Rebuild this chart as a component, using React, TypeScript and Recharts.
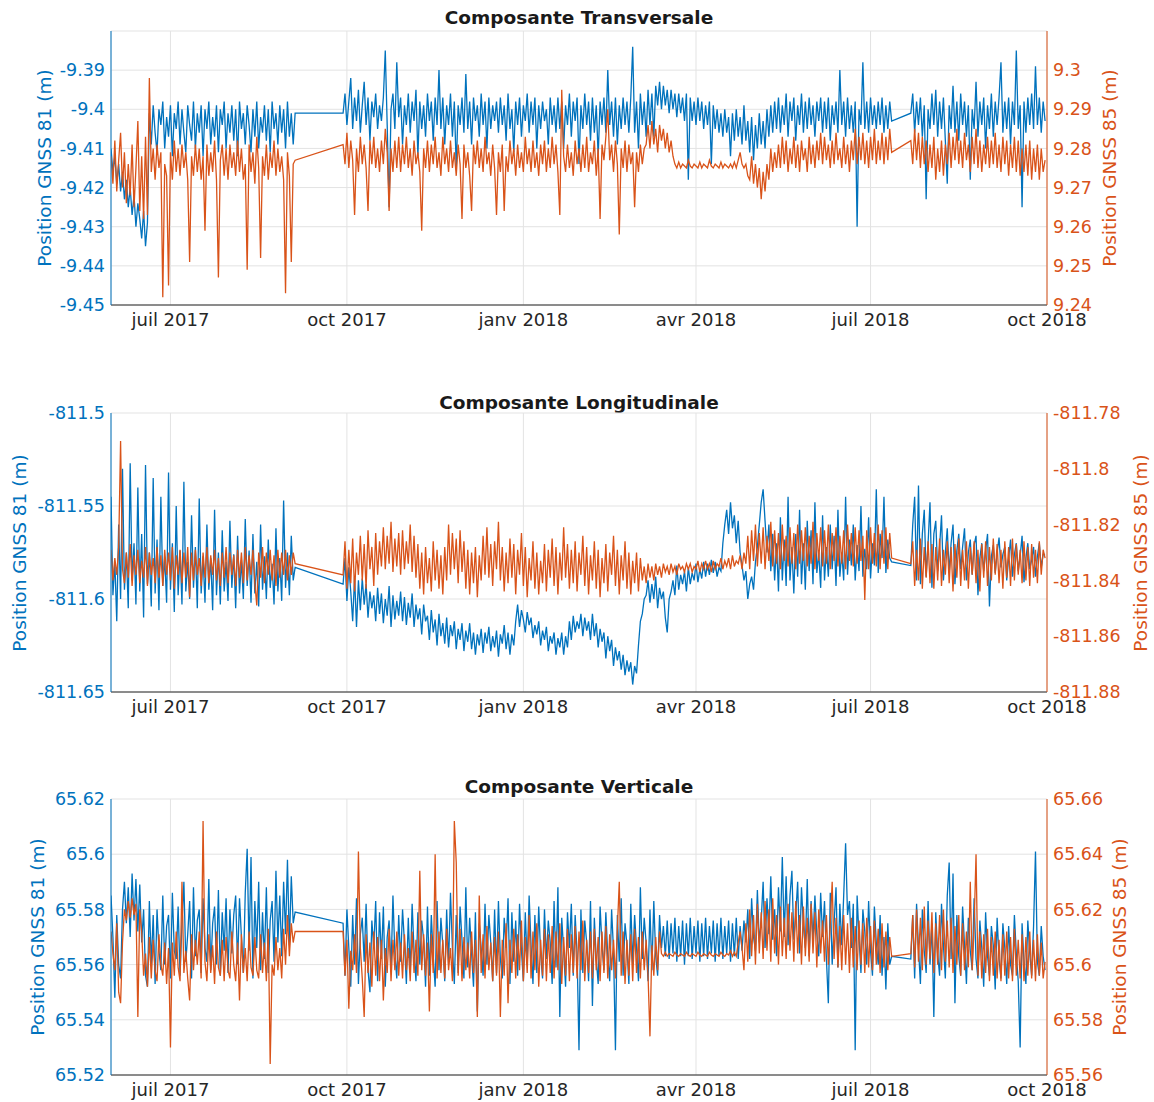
import React from "react"
import { LineChart, Line, XAxis, YAxis, CartesianGrid } from "recharts"

const BLUE = "#0072BD"
const ORANGE = "#D95319"
const FONT = "'DejaVu Sans', Verdana, sans-serif"

// days counted from 1 July 2017, one sample per day, three recording periods
const DAYS_A = [
	-31, -30, -29, -28, -27, -26, -25, -24, -23, -22,
	-21, -20, -19, -18, -17, -16, -15, -14, -13, -12,
	-11, -10, -9, -8, -7, -6, -5, -4, -3, -2,
	-1, 0, 1, 2, 3, 4, 5, 6, 7, 8,
	9, 10, 11, 12, 13, 14, 15, 16, 17, 18,
	19, 20, 21, 22, 23, 24, 25, 26, 27, 28,
	29, 30, 31, 32, 33, 34, 35, 36, 37, 38,
	39, 40, 41, 42, 43, 44, 45, 46, 47, 48,
	49, 50, 51, 52, 53, 54, 55, 56, 57, 58,
	59, 60, 61, 62, 63, 64, 65,
]
const DAYS_B = [
	90, 91, 92, 93, 94, 95, 96, 97, 98, 99,
	100, 101, 102, 103, 104, 105, 106, 107, 108, 109,
	110, 111, 112, 113, 114, 115, 116, 117, 118, 119,
	120, 121, 122, 123, 124, 125, 126, 127, 128, 129,
	130, 131, 132, 133, 134, 135, 136, 137, 138, 139,
	140, 141, 142, 143, 144, 145, 146, 147, 148, 149,
	150, 151, 152, 153, 154, 155, 156, 157, 158, 159,
	160, 161, 162, 163, 164, 165, 166, 167, 168, 169,
	170, 171, 172, 173, 174, 175, 176, 177, 178, 179,
	180, 181, 182, 183, 184, 185, 186, 187, 188, 189,
	190, 191, 192, 193, 194, 195, 196, 197, 198, 199,
	200, 201, 202, 203, 204, 205, 206, 207, 208, 209,
	210, 211, 212, 213, 214, 215, 216, 217, 218, 219,
	220, 221, 222, 223, 224, 225, 226, 227, 228, 229,
	230, 231, 232, 233, 234, 235, 236, 237, 238, 239,
	240, 241, 242, 243, 244, 245, 246, 247, 248, 249,
	250, 251, 252, 253, 254, 255, 256, 257, 258, 259,
	260, 261, 262, 263, 264, 265, 266, 267, 268, 269,
	270, 271, 272, 273, 274, 275, 276, 277, 278, 279,
	280, 281, 282, 283, 284, 285, 286, 287, 288, 289,
	290, 291, 292, 293, 294, 295, 296, 297, 298, 299,
	300, 301, 302, 303, 304, 305, 306, 307, 308, 309,
	310, 311, 312, 313, 314, 315, 316, 317, 318, 319,
	320, 321, 322, 323, 324, 325, 326, 327, 328, 329,
	330, 331, 332, 333, 334, 335, 336, 337, 338, 339,
	340, 341, 342, 343, 344, 345, 346, 347, 348, 349,
	350, 351, 352, 353, 354, 355, 356, 357, 358, 359,
	360, 361, 362, 363, 364, 365, 366, 367, 368, 369,
	370, 371, 372, 373, 374, 375, 376,
]
const DAYS_C = [
	386, 387, 388, 389, 390, 391, 392, 393, 394, 395,
	396, 397, 398, 399, 400, 401, 402, 403, 404, 405,
	406, 407, 408, 409, 410, 411, 412, 413, 414, 415,
	416, 417, 418, 419, 420, 421, 422, 423, 424, 425,
	426, 427, 428, 429, 430, 431, 432, 433, 434, 435,
	436, 437, 438, 439, 440, 441, 442, 443, 444, 445,
	446, 447, 448, 449, 450, 451, 452, 453, 454, 455,
	456,
]

const X_TICKS = [0, 92, 184, 274, 365, 457]
const X_LABELS = ["juil 2017", "oct 2017", "janv 2018", "avr 2018", "juil 2018", "oct 2018"]

// Composante Transversale, GNSS 81 (left axis)
const TRANS_81 = [
	-9.410, -9.416, -9.412, -9.419, -9.414, -9.421, -9.416, -9.423, -9.418, -9.425,
	-9.420, -9.427, -9.422, -9.430, -9.424, -9.428, -9.433, -9.426, -9.435, -9.429,
	-9.401, -9.409, -9.399, -9.406, -9.411, -9.400, -9.404, -9.398, -9.410, -9.402,
	-9.407, -9.399, -9.412, -9.401, -9.405, -9.398, -9.409, -9.400, -9.406, -9.411,
	-9.399, -9.404, -9.408, -9.398, -9.410, -9.401, -9.406, -9.399, -9.412, -9.400,
	-9.405, -9.398, -9.409, -9.402, -9.407, -9.399, -9.411, -9.400, -9.404, -9.398,
	-9.410, -9.401, -9.406, -9.399, -9.408, -9.400, -9.412, -9.398, -9.405, -9.401,
	-9.409, -9.399, -9.404, -9.411, -9.400, -9.407, -9.398, -9.410, -9.402, -9.406,
	-9.399, -9.408, -9.400, -9.411, -9.398, -9.405, -9.401, -9.409, -9.399, -9.406,
	-9.400, -9.410, -9.398, -9.407, -9.401, -9.409, -9.401,
	-9.401, -9.396, -9.404, -9.398, -9.392, -9.405, -9.397, -9.403, -9.395, -9.406,
	-9.399, -9.393, -9.404, -9.397, -9.408, -9.398, -9.402, -9.396, -9.405, -9.399,
	-9.403, -9.397, -9.385, -9.404, -9.425, -9.400, -9.396, -9.405, -9.388, -9.402,
	-9.397, -9.409, -9.399, -9.404, -9.396, -9.406, -9.398, -9.403, -9.395, -9.412,
	-9.398, -9.405, -9.399, -9.407, -9.396, -9.403, -9.398, -9.408, -9.397, -9.404,
	-9.390, -9.405, -9.397, -9.409, -9.399, -9.404, -9.396, -9.407, -9.398, -9.415,
	-9.399, -9.404, -9.397, -9.406, -9.391, -9.405, -9.398, -9.409, -9.397, -9.403,
	-9.399, -9.407, -9.396, -9.404, -9.398, -9.410, -9.397, -9.405, -9.399, -9.403,
	-9.398, -9.406, -9.397, -9.404, -9.399, -9.408, -9.396, -9.405, -9.400, -9.411,
	-9.398, -9.404, -9.397, -9.407, -9.399, -9.403, -9.396, -9.406, -9.398, -9.404,
	-9.397, -9.410, -9.399, -9.405, -9.398, -9.403, -9.400, -9.409, -9.397, -9.404,
	-9.399, -9.406, -9.397, -9.405, -9.398, -9.410, -9.399, -9.404, -9.396, -9.407,
	-9.398, -9.403, -9.397, -9.414, -9.399, -9.405, -9.396, -9.404, -9.398, -9.408,
	-9.397, -9.406, -9.399, -9.412, -9.398, -9.404, -9.397, -9.406, -9.390, -9.404,
	-9.398, -9.407, -9.397, -9.409, -9.399, -9.405, -9.397, -9.404, -9.398, -9.406,
	-9.397, -9.384, -9.406, -9.398, -9.410, -9.396, -9.404, -9.398, -9.407, -9.395,
	-9.404, -9.396, -9.407, -9.394, -9.399, -9.393, -9.400, -9.394, -9.399, -9.395,
	-9.401, -9.395, -9.400, -9.396, -9.402, -9.396, -9.401, -9.397, -9.403, -9.396,
	-9.418, -9.397, -9.403, -9.398, -9.404, -9.397, -9.403, -9.398, -9.405, -9.399,
	-9.404, -9.398, -9.414, -9.399, -9.405, -9.400, -9.406, -9.401, -9.407, -9.400,
	-9.406, -9.402, -9.412, -9.401, -9.408, -9.400, -9.407, -9.402, -9.409, -9.399,
	-9.408, -9.403, -9.411, -9.402, -9.413, -9.404, -9.410, -9.401, -9.409, -9.403,
	-9.410, -9.400, -9.407, -9.399, -9.406, -9.398, -9.405, -9.397, -9.406, -9.399,
	-9.404, -9.396, -9.407, -9.398, -9.403, -9.397, -9.408, -9.399, -9.404, -9.396,
	-9.406, -9.398, -9.405, -9.397, -9.404, -9.399, -9.407, -9.398, -9.403, -9.397,
	-9.406, -9.398, -9.405, -9.397, -9.408, -9.399, -9.404, -9.398, -9.406, -9.390,
	-9.404, -9.398, -9.407, -9.397, -9.405, -9.399, -9.406, -9.398, -9.430, -9.400,
	-9.404, -9.388, -9.405, -9.398, -9.406, -9.397, -9.404, -9.399, -9.405, -9.398,
	-9.404, -9.397, -9.406, -9.399, -9.405, -9.398, -9.403,
	-9.401, -9.396, -9.406, -9.398, -9.404, -9.397, -9.407, -9.399, -9.423, -9.400,
	-9.405, -9.396, -9.404, -9.395, -9.407, -9.398, -9.405, -9.397, -9.408, -9.419,
	-9.399, -9.405, -9.394, -9.406, -9.398, -9.408, -9.396, -9.404, -9.398, -9.407,
	-9.399, -9.418, -9.400, -9.405, -9.393, -9.407, -9.398, -9.404, -9.397, -9.410,
	-9.399, -9.405, -9.396, -9.407, -9.398, -9.404, -9.397, -9.388, -9.406, -9.398,
	-9.405, -9.397, -9.409, -9.398, -9.404, -9.385, -9.405, -9.399, -9.425, -9.398,
	-9.406, -9.397, -9.404, -9.396, -9.405, -9.389, -9.404, -9.397, -9.406, -9.398,
	-9.403,
]
// Composante Transversale, GNSS 85 (right axis)
const TRANS_85 = [
	9.278, 9.271, 9.282, 9.269, 9.277, 9.284, 9.270, 9.279, 9.266, 9.276,
	9.268, 9.281, 9.265, 9.275, 9.287, 9.264, 9.278, 9.262, 9.283, 9.263,
	9.298, 9.274, 9.280, 9.272, 9.281, 9.275, 9.279, 9.242, 9.276, 9.273,
	9.245, 9.279, 9.272, 9.282, 9.274, 9.280, 9.273, 9.281, 9.275, 9.279,
	9.272, 9.251, 9.278, 9.273, 9.281, 9.274, 9.280, 9.272, 9.278, 9.259,
	9.281, 9.273, 9.279, 9.274, 9.282, 9.272, 9.247, 9.277, 9.281, 9.273,
	9.280, 9.272, 9.281, 9.275, 9.279, 9.273, 9.282, 9.274, 9.280, 9.272,
	9.276, 9.249, 9.281, 9.274, 9.279, 9.271, 9.283, 9.275, 9.252, 9.278,
	9.273, 9.281, 9.272, 9.279, 9.275, 9.282, 9.273, 9.280, 9.274, 9.278,
	9.272, 9.243, 9.279, 9.273, 9.251, 9.276, 9.277,
	9.281, 9.276, 9.284, 9.275, 9.282, 9.277, 9.263, 9.280, 9.274, 9.283,
	9.276, 9.281, 9.275, 9.264, 9.282, 9.276, 9.283, 9.275, 9.280, 9.274,
	9.282, 9.276, 9.285, 9.279, 9.264, 9.280, 9.274, 9.282, 9.275, 9.283,
	9.274, 9.281, 9.276, 9.283, 9.275, 9.280, 9.273, 9.282, 9.276, 9.279,
	9.274, 9.259, 9.280, 9.275, 9.282, 9.274, 9.281, 9.276, 9.283, 9.275,
	9.279, 9.273, 9.283, 9.276, 9.280, 9.274, 9.282, 9.275, 9.279, 9.273,
	9.281, 9.276, 9.262, 9.281, 9.275, 9.279, 9.273, 9.264, 9.281, 9.276,
	9.282, 9.275, 9.280, 9.274, 9.283, 9.276, 9.279, 9.273, 9.281, 9.275,
	9.263, 9.279, 9.274, 9.281, 9.264, 9.278, 9.274, 9.282, 9.276, 9.280,
	9.273, 9.281, 9.275, 9.279, 9.274, 9.283, 9.276, 9.280, 9.274, 9.282,
	9.275, 9.279, 9.273, 9.281, 9.276, 9.282, 9.274, 9.280, 9.275, 9.283,
	9.276, 9.281, 9.274, 9.263, 9.295, 9.278, 9.274, 9.281, 9.275, 9.279,
	9.273, 9.282, 9.276, 9.280, 9.274, 9.281, 9.275, 9.283, 9.274, 9.279,
	9.276, 9.282, 9.273, 9.280, 9.262, 9.281, 9.277, 9.283, 9.290, 9.277,
	9.281, 9.274, 9.282, 9.276, 9.258, 9.280, 9.275, 9.282, 9.274, 9.281,
	9.276, 9.279, 9.265, 9.279, 9.274, 9.281, 9.276, 9.280, 9.281, 9.286,
	9.280, 9.287, 9.281, 9.285, 9.279, 9.286, 9.282, 9.285, 9.280, 9.284,
	9.279, 9.282, 9.278, 9.276, 9.275, 9.2765, 9.275, 9.276, 9.2755, 9.275,
	9.277, 9.2755, 9.275, 9.276, 9.2755, 9.275, 9.2765, 9.275, 9.276, 9.2755,
	9.275, 9.277, 9.2755, 9.275, 9.276, 9.2755, 9.275, 9.2765, 9.275, 9.276,
	9.2755, 9.275, 9.276, 9.275, 9.2765, 9.275, 9.277, 9.279, 9.276, 9.275,
	9.276, 9.273, 9.272, 9.278, 9.271, 9.276, 9.270, 9.275, 9.267, 9.274,
	9.269, 9.276, 9.272, 9.280, 9.274, 9.279, 9.275, 9.281, 9.275, 9.283,
	9.276, 9.282, 9.274, 9.280, 9.276, 9.283, 9.275, 9.281, 9.274, 9.282,
	9.277, 9.280, 9.274, 9.283, 9.276, 9.281, 9.275, 9.282, 9.277, 9.284,
	9.276, 9.283, 9.277, 9.281, 9.275, 9.282, 9.276, 9.284, 9.277, 9.280,
	9.275, 9.283, 9.276, 9.281, 9.274, 9.282, 9.277, 9.285, 9.276, 9.283,
	9.277, 9.284, 9.276, 9.282, 9.275, 9.283, 9.277, 9.285, 9.276, 9.282,
	9.277, 9.284, 9.276, 9.283, 9.277, 9.285, 9.279,
	9.282, 9.276, 9.285, 9.277, 9.284, 9.275, 9.283, 9.276, 9.282, 9.274,
	9.281, 9.275, 9.283, 9.272, 9.280, 9.274, 9.282, 9.273, 9.281, 9.276,
	9.284, 9.275, 9.283, 9.277, 9.285, 9.276, 9.282, 9.275, 9.284, 9.277,
	9.281, 9.274, 9.283, 9.276, 9.285, 9.275, 9.282, 9.274, 9.281, 9.276,
	9.283, 9.275, 9.282, 9.276, 9.284, 9.275, 9.281, 9.274, 9.283, 9.276,
	9.282, 9.273, 9.281, 9.275, 9.283, 9.274, 9.282, 9.273, 9.280, 9.274,
	9.281, 9.273, 9.282, 9.272, 9.280, 9.274, 9.281, 9.272, 9.280, 9.274,
	9.277,
]

// Composante Longitudinale, GNSS 81 (left axis)
const LONG_81 = [
	-811.545, -811.598, -811.580, -811.612, -811.560, -811.600, -811.530, -811.595, -811.575, -811.605,
	-811.527, -811.590, -811.570, -811.603, -811.540, -811.596, -811.565, -811.610, -811.528, -811.592,
	-811.575, -811.604, -811.535, -811.597, -811.568, -811.606, -811.545, -811.593, -811.578, -811.602,
	-811.532, -811.595, -811.570, -811.607, -811.550, -811.598, -811.574, -811.603, -811.537, -811.596,
	-811.580, -811.600, -811.555, -811.594, -811.572, -811.605, -811.546, -811.597, -811.577, -811.602,
	-811.560, -811.595, -811.578, -811.606, -811.552, -811.598, -811.575, -811.603, -811.563, -811.596,
	-811.580, -811.601, -811.558, -811.594, -811.576, -811.605, -811.566, -811.597, -811.579, -811.600,
	-811.557, -811.593, -811.574, -811.602, -811.565, -811.597, -811.580, -811.604, -811.560, -811.595,
	-811.577, -811.600, -811.568, -811.594, -811.581, -811.603, -811.562, -811.596, -811.578, -811.601,
	-811.547, -811.594, -811.575, -811.598, -811.566, -811.590, -811.583,
	-811.592, -811.578, -811.601, -811.583, -811.596, -811.612, -811.588, -811.615, -811.590, -811.606,
	-811.589, -811.603, -811.592, -811.610, -811.596, -811.605, -811.598, -811.612, -811.594, -811.608,
	-811.597, -811.613, -811.600, -811.609, -811.593, -811.615, -811.598, -811.611, -811.601, -811.609,
	-811.596, -811.612, -811.599, -811.614, -811.602, -811.610, -811.597, -811.615, -811.603, -811.611,
	-811.605, -811.619, -811.603, -811.612, -811.609, -811.622, -811.606, -811.618, -811.611, -811.625,
	-811.608, -811.620, -811.613, -811.624, -811.610, -811.626, -811.614, -811.620, -811.612, -811.627,
	-811.616, -811.622, -811.613, -811.628, -811.617, -811.623, -811.613, -811.627, -811.618, -811.630,
	-811.619, -811.625, -811.616, -811.629, -811.618, -811.624, -811.615, -811.628, -811.620, -811.626,
	-811.617, -811.631, -811.619, -811.624, -811.614, -811.627, -811.618, -811.630, -811.619, -811.625,
	-811.612, -811.603, -811.615, -811.606, -811.611, -811.618, -811.607, -811.614, -811.610, -811.621,
	-811.614, -811.619, -811.612, -811.625, -811.617, -811.622, -811.615, -811.628, -811.620, -811.624,
	-811.618, -811.630, -811.621, -811.626, -811.618, -811.630, -811.620, -811.626, -811.612, -811.622,
	-811.609, -811.618, -811.612, -811.616, -811.608, -811.620, -811.610, -811.617, -811.612, -811.622,
	-811.608, -811.620, -811.613, -811.626, -811.616, -811.623, -811.618, -811.632, -811.620, -811.628,
	-811.622, -811.636, -811.626, -811.633, -811.628, -811.638, -811.630, -811.641, -811.633, -811.639,
	-811.634, -811.646, -811.636, -811.640, -811.625, -811.612, -811.608, -811.600, -811.598, -811.590,
	-811.602, -811.592, -811.600, -811.588, -811.605, -811.594, -811.600, -811.596, -811.610, -811.618,
	-811.600, -811.596, -811.590, -811.598, -811.582, -811.595, -811.587, -811.592, -811.585, -811.596,
	-811.583, -811.592, -811.586, -811.590, -811.581, -811.591, -811.584, -811.589, -811.580, -811.588,
	-811.581, -811.587, -811.579, -811.586, -811.580, -811.588, -811.583, -811.585, -811.570, -811.560,
	-811.552, -811.565, -811.548, -811.562, -811.555, -811.570, -811.558, -811.575, -811.582, -811.590,
	-811.585, -811.600, -811.592, -811.588, -811.595, -811.580, -811.572, -811.560, -811.548, -811.541,
	-811.558, -811.575, -811.560, -811.585, -811.565, -811.590, -811.570, -811.596, -811.556, -811.590,
	-811.568, -811.593, -811.545, -811.590, -811.572, -811.597, -811.565, -811.588, -811.552, -811.592,
	-811.570, -811.595, -811.558, -811.585, -811.563, -811.592, -811.548, -811.586, -811.575, -811.594,
	-811.555, -811.590, -811.572, -811.588, -811.560, -811.584, -811.566, -811.593, -811.552, -811.588,
	-811.575, -811.590, -811.545, -811.587, -811.568, -811.582, -811.560, -811.590, -811.571, -811.585,
	-811.550, -811.588, -811.573, -811.584, -811.556, -811.589, -811.570, -811.582, -811.541, -811.586,
	-811.565, -811.578, -811.545, -811.586, -811.568, -811.578, -811.580,
	-811.582, -811.560, -811.545, -811.590, -811.539, -811.592, -811.565, -811.552, -811.588, -811.570,
	-811.548, -811.594, -811.565, -811.558, -811.585, -811.572, -811.555, -811.590, -811.575, -811.562,
	-811.586, -811.570, -811.560, -811.592, -811.574, -811.565, -811.584, -811.572, -811.562, -811.590,
	-811.575, -811.568, -811.587, -811.571, -811.566, -811.598, -811.578, -811.570, -811.585, -811.574,
	-811.565, -811.604, -811.577, -811.571, -811.586, -811.575, -811.567, -811.583, -811.576, -811.572,
	-811.590, -811.578, -811.568, -811.588, -811.576, -811.570, -811.585, -811.577, -811.566, -811.591,
	-811.578, -811.570, -811.584, -811.579, -811.572, -811.588, -811.577, -811.570, -811.583, -811.576,
	-811.576,
]
// Composante Longitudinale, GNSS 85 (right axis)
const LONG_85 = [
	-811.829, -811.840, -811.832, -811.838, -811.828, -811.790, -811.836, -811.841, -811.830, -811.839,
	-811.827, -811.842, -811.831, -811.838, -811.829, -811.841, -811.833, -811.839, -811.828, -811.842,
	-811.830, -811.838, -811.832, -811.841, -811.828, -811.839, -811.831, -811.842, -811.829, -811.838,
	-811.830, -811.840, -811.828, -811.843, -811.831, -811.838, -811.829, -811.841, -811.830, -811.839,
	-811.828, -811.846, -811.830, -811.840, -811.829, -811.838, -811.832, -811.842, -811.830, -811.839,
	-811.828, -811.841, -811.831, -811.838, -811.829, -811.840, -811.832, -811.842, -811.830, -811.839,
	-811.828, -811.841, -811.830, -811.838, -811.831, -811.842, -811.829, -811.839, -811.830, -811.841,
	-811.828, -811.840, -811.831, -811.838, -811.829, -811.841, -811.849, -811.830, -811.839, -811.828,
	-811.841, -811.830, -811.838, -811.829, -811.840, -811.831, -811.842, -811.829, -811.839, -811.830,
	-811.838, -811.829, -811.840, -811.831, -811.838, -811.830, -811.834,
	-811.838, -811.826, -811.843, -811.829, -811.841, -811.825, -811.844, -811.830, -811.838, -811.824,
	-811.840, -811.827, -811.843, -811.822, -811.836, -811.828, -811.842, -811.823, -811.838, -811.826,
	-811.835, -811.821, -811.836, -811.824, -811.834, -811.819, -811.837, -811.825, -811.835, -811.823,
	-811.838, -811.822, -811.836, -811.826, -811.834, -811.820, -811.837, -811.824, -811.839, -811.827,
	-811.843, -811.830, -811.845, -811.828, -811.841, -811.832, -811.844, -811.826, -811.840, -811.829,
	-811.843, -811.831, -811.845, -811.828, -811.840, -811.820, -811.838, -811.823, -811.836, -811.825,
	-811.841, -811.822, -811.837, -811.826, -811.843, -811.829, -811.845, -811.830, -811.841, -811.828,
	-811.846, -811.831, -811.840, -811.824, -811.838, -811.821, -811.839, -811.827, -811.842, -811.826,
	-811.836, -811.819, -811.840, -811.828, -811.844, -811.830, -811.841, -811.825, -811.839, -811.827,
	-811.845, -811.829, -811.838, -811.823, -811.842, -811.828, -811.846, -811.832, -811.840, -811.826,
	-811.843, -811.830, -811.845, -811.833, -811.841, -811.827, -811.844, -811.829, -811.839, -811.825,
	-811.842, -811.828, -811.845, -811.830, -811.840, -811.821, -811.839, -811.827, -811.843, -811.829,
	-811.841, -811.826, -811.844, -811.830, -811.838, -811.824, -811.842, -811.828, -811.845, -811.831,
	-811.840, -811.826, -811.843, -811.829, -811.846, -811.832, -811.841, -811.827, -811.844, -811.830,
	-811.838, -811.824, -811.842, -811.829, -811.845, -811.831, -811.840, -811.826, -811.843, -811.830,
	-811.845, -811.833, -811.841, -811.830, -811.844, -811.832, -811.840, -811.835, -811.841, -811.834,
	-811.839, -811.835, -811.840, -811.834, -811.838, -811.835, -811.839, -811.834, -811.837, -811.835,
	-811.838, -811.834, -811.837, -811.835, -811.838, -811.834, -811.836, -811.835, -811.837, -811.834,
	-811.836, -811.834, -811.837, -811.835, -811.836, -811.833, -811.837, -811.834, -811.836, -811.833,
	-811.836, -811.834, -811.837, -811.833, -811.836, -811.834, -811.835, -811.832, -811.836, -811.833,
	-811.835, -811.832, -811.836, -811.831, -811.835, -811.833, -811.834, -811.831, -811.836, -811.830,
	-811.834, -811.824, -811.836, -811.822, -811.833, -811.820, -811.835, -811.823, -811.834, -811.821,
	-811.836, -811.824, -811.833, -811.819, -811.835, -811.822, -811.834, -811.823, -811.836, -811.820,
	-811.833, -811.824, -811.835, -811.821, -811.834, -811.823, -811.836, -811.820, -811.834, -811.822,
	-811.833, -811.821, -811.835, -811.824, -811.834, -811.819, -811.836, -811.823, -811.833, -811.821,
	-811.835, -811.822, -811.834, -811.820, -811.836, -811.823, -811.833, -811.821, -811.835, -811.824,
	-811.834, -811.822, -811.836, -811.820, -811.833, -811.823, -811.835, -811.821, -811.834, -811.822,
	-811.833, -811.824, -811.847, -811.822, -811.836, -811.821, -811.834, -811.823, -811.835, -811.820,
	-811.836, -811.822, -811.834, -811.821, -811.836, -811.823, -811.832,
	-811.834, -811.826, -811.842, -811.829, -811.840, -811.825, -811.843, -811.828, -811.839, -811.826,
	-811.841, -811.827, -811.843, -811.828, -811.840, -811.825, -811.842, -811.829, -811.838, -811.826,
	-811.841, -811.828, -811.844, -811.827, -811.839, -811.825, -811.842, -811.829, -811.840, -811.826,
	-811.843, -811.828, -811.838, -811.826, -811.841, -811.829, -811.844, -811.827, -811.839, -811.826,
	-811.842, -811.828, -811.840, -811.825, -811.838, -811.827, -811.841, -811.829, -811.843, -811.826,
	-811.839, -811.828, -811.842, -811.825, -811.840, -811.827, -811.838, -811.829, -811.841, -811.826,
	-811.840, -811.828, -811.842, -811.827, -811.839, -811.829, -811.841, -811.826, -811.838, -811.829,
	-811.832,
]

// Composante Verticale, GNSS 81 (left axis)
const VERT_81 = [
	65.585, 65.570, 65.548, 65.578, 65.560, 65.555, 65.580, 65.590, 65.575, 65.588,
	65.570, 65.593, 65.576, 65.591, 65.572, 65.589, 65.568, 65.580, 65.556, 65.552,
	65.583, 65.560, 65.578, 65.553, 65.580, 65.565, 65.558, 65.585, 65.560, 65.574,
	65.578, 65.555, 65.586, 65.565, 65.562, 65.581, 65.556, 65.575, 65.590, 65.561,
	65.571, 65.583, 65.555, 65.588, 65.563, 65.576, 65.580, 65.557, 65.584, 65.566,
	65.561, 65.591, 65.558, 65.575, 65.581, 65.560, 65.587, 65.556, 65.579, 65.565,
	65.584, 65.557, 65.580, 65.564, 65.578, 65.585, 65.560, 65.584, 65.570, 65.557,
	65.586, 65.602, 65.565, 65.599, 65.555, 65.583, 65.566, 65.590, 65.558, 65.579,
	65.562, 65.588, 65.557, 65.576, 65.583, 65.561, 65.594, 65.568, 65.585, 65.563,
	65.590, 65.571, 65.598, 65.567, 65.592, 65.575, 65.579,
	65.575, 65.556, 65.580, 65.566, 65.552, 65.578, 65.560, 65.584, 65.553, 65.571,
	65.577, 65.561, 65.582, 65.558, 65.550, 65.576, 65.566, 65.583, 65.554, 65.579,
	65.562, 65.581, 65.552, 65.570, 65.576, 65.558, 65.585, 65.564, 65.555, 65.578,
	65.561, 65.580, 65.568, 65.553, 65.577, 65.557, 65.582, 65.565, 65.554, 65.579,
	65.560, 65.576, 65.569, 65.552, 65.581, 65.556, 65.578, 65.563, 65.552, 65.583,
	65.558, 65.577, 65.567, 65.554, 65.580, 65.560, 65.586, 65.566, 65.553, 65.578,
	65.557, 65.581, 65.569, 65.555, 65.588, 65.559, 65.577, 65.564, 65.552, 65.579,
	65.543, 65.575, 65.566, 65.556, 65.582, 65.560, 65.578, 65.568, 65.554, 65.580,
	65.557, 65.583, 65.562, 65.555, 65.577, 65.566, 65.584, 65.553, 65.579, 65.561,
	65.576, 65.556, 65.582, 65.565, 65.554, 65.579, 65.560, 65.585, 65.567, 65.553,
	65.578, 65.557, 65.581, 65.564, 65.555, 65.580, 65.562, 65.576, 65.568, 65.553,
	65.583, 65.559, 65.588, 65.541, 65.577, 65.565, 65.552, 65.579, 65.566, 65.582,
	65.556, 65.578, 65.564, 65.529, 65.580, 65.557, 65.576, 65.568, 65.554, 65.583,
	65.545, 65.577, 65.562, 65.553, 65.581, 65.567, 65.558, 65.579, 65.563, 65.554,
	65.580, 65.565, 65.529, 65.578, 65.561, 65.584, 65.556, 65.575, 65.567, 65.553,
	65.582, 65.560, 65.578, 65.566, 65.554, 65.588, 65.562, 65.577, 65.568, 65.554,
	65.580, 65.558, 65.583, 65.563, 65.556, 65.578, 65.566, 65.574, 65.563, 65.576,
	65.562, 65.575, 65.564, 65.577, 65.561, 65.574, 65.563, 65.576, 65.560, 65.575,
	65.563, 65.577, 65.562, 65.574, 65.564, 65.576, 65.561, 65.575, 65.563, 65.577,
	65.562, 65.574, 65.564, 65.576, 65.561, 65.575, 65.563, 65.577, 65.562, 65.574,
	65.564, 65.576, 65.561, 65.575, 65.563, 65.577, 65.562, 65.574, 65.565, 65.576,
	65.568, 65.580, 65.562, 65.584, 65.570, 65.565, 65.587, 65.568, 65.576, 65.590,
	65.566, 65.584, 65.571, 65.592, 65.569, 65.580, 65.563, 65.588, 65.572, 65.599,
	65.570, 65.592, 65.567, 65.585, 65.594, 65.569, 65.578, 65.590, 65.564, 65.588,
	65.574, 65.566, 65.591, 65.563, 65.583, 65.569, 65.585, 65.571, 65.563, 65.586,
	65.570, 65.583, 65.562, 65.546, 65.586, 65.560, 65.575, 65.588, 65.559, 65.582,
	65.567, 65.585, 65.604, 65.578, 65.583, 65.566, 65.582, 65.529, 65.585, 65.570,
	65.557, 65.580, 65.572, 65.560, 65.583, 65.565, 65.556, 65.581, 65.568, 65.560,
	65.578, 65.556, 65.570, 65.551, 65.575, 65.560, 65.563,
	65.562, 65.578, 65.555, 65.582, 65.566, 65.553, 65.580, 65.565, 65.557, 65.583,
	65.560, 65.575, 65.541, 65.579, 65.564, 65.556, 65.582, 65.567, 65.555, 65.585,
	65.597, 65.562, 65.593, 65.546, 65.578, 65.563, 65.556, 65.581, 65.567, 65.553,
	65.577, 65.565, 65.558, 65.584, 65.562, 65.555, 65.576, 65.566, 65.552, 65.579,
	65.563, 65.556, 65.574, 65.567, 65.551, 65.577, 65.562, 65.555, 65.575, 65.566,
	65.553, 65.574, 65.560, 65.556, 65.578, 65.564, 65.554, 65.530, 65.575, 65.561,
	65.553, 65.576, 65.564, 65.556, 65.574, 65.601, 65.561, 65.556, 65.574, 65.563,
	65.558,
]
// Composante Verticale, GNSS 85 (right axis)
const VERT_85 = [
	65.612, 65.604, 65.598, 65.615, 65.590, 65.586, 65.608, 65.620, 65.616, 65.623,
	65.617, 65.624, 65.618, 65.622, 65.581, 65.620, 65.612, 65.596, 65.604, 65.592,
	65.610, 65.595, 65.609, 65.598, 65.594, 65.611, 65.600, 65.596, 65.608, 65.593,
	65.606, 65.570, 65.608, 65.596, 65.612, 65.599, 65.594, 65.630, 65.597, 65.605,
	65.595, 65.587, 65.611, 65.598, 65.609, 65.600, 65.612, 65.595, 65.652, 65.601,
	65.594, 65.611, 65.597, 65.607, 65.593, 65.612, 65.599, 65.596, 65.609, 65.594,
	65.610, 65.598, 65.595, 65.612, 65.600, 65.594, 65.608, 65.587, 65.611, 65.597,
	65.606, 65.594, 65.612, 65.599, 65.596, 65.610, 65.598, 65.595, 65.611, 65.597,
	65.608, 65.594, 65.613, 65.564, 65.600, 65.596, 65.610, 65.598, 65.606, 65.595,
	65.613, 65.600, 65.618, 65.603, 65.615, 65.608, 65.612,
	65.612, 65.596, 65.609, 65.584, 65.605, 65.598, 65.611, 65.597, 65.641, 65.606,
	65.595, 65.581, 65.611, 65.597, 65.608, 65.592, 65.612, 65.596, 65.610, 65.594,
	65.609, 65.587, 65.606, 65.597, 65.613, 65.594, 65.609, 65.598, 65.612, 65.596,
	65.608, 65.595, 65.611, 65.598, 65.606, 65.594, 65.612, 65.597, 65.609, 65.596,
	65.634, 65.598, 65.611, 65.596, 65.608, 65.583, 65.611, 65.597, 65.640, 65.595,
	65.612, 65.597, 65.609, 65.595, 65.613, 65.598, 65.606, 65.594, 65.652, 65.637,
	65.596, 65.613, 65.594, 65.610, 65.598, 65.608, 65.595, 65.612, 65.597, 65.609,
	65.581, 65.625, 65.597, 65.611, 65.595, 65.614, 65.598, 65.608, 65.594, 65.610,
	65.596, 65.612, 65.581, 65.609, 65.596, 65.615, 65.586, 65.609, 65.597, 65.613,
	65.595, 65.611, 65.598, 65.616, 65.594, 65.610, 65.597, 65.618, 65.595, 65.612,
	65.598, 65.615, 65.592, 65.609, 65.596, 65.613, 65.594, 65.611, 65.597, 65.614,
	65.595, 65.612, 65.598, 65.615, 65.593, 65.610, 65.596, 65.613, 65.594, 65.611,
	65.597, 65.614, 65.595, 65.612, 65.598, 65.616, 65.594, 65.609, 65.597, 65.612,
	65.595, 65.613, 65.598, 65.610, 65.594, 65.612, 65.597, 65.614, 65.595, 65.611,
	65.598, 65.609, 65.595, 65.613, 65.630, 65.596, 65.612, 65.593, 65.609, 65.596,
	65.611, 65.594, 65.613, 65.597, 65.610, 65.595, 65.612, 65.598, 65.609, 65.596,
	65.574, 65.607, 65.596, 65.610, 65.598, 65.612, 65.604, 65.603, 65.6045, 65.603,
	65.604, 65.6035, 65.603, 65.6045, 65.6035, 65.603, 65.604, 65.6035, 65.603, 65.6045,
	65.6035, 65.603, 65.604, 65.6035, 65.603, 65.6045, 65.6035, 65.603, 65.604, 65.6035,
	65.603, 65.6045, 65.6035, 65.603, 65.604, 65.6035, 65.603, 65.6045, 65.6035, 65.603,
	65.604, 65.6035, 65.605, 65.603, 65.6045, 65.603, 65.608, 65.612, 65.606, 65.598,
	65.615, 65.601, 65.620, 65.603, 65.618, 65.600, 65.622, 65.604, 65.619, 65.602,
	65.623, 65.605, 65.620, 65.601, 65.624, 65.604, 65.618, 65.600, 65.621, 65.603,
	65.617, 65.602, 65.622, 65.605, 65.619, 65.601, 65.623, 65.604, 65.618, 65.600,
	65.621, 65.603, 65.617, 65.601, 65.622, 65.604, 65.619, 65.599, 65.620, 65.604,
	65.616, 65.601, 65.618, 65.600, 65.615, 65.630, 65.602, 65.617, 65.599, 65.614,
	65.598, 65.618, 65.600, 65.615, 65.597, 65.617, 65.599, 65.614, 65.598, 65.616,
	65.600, 65.615, 65.597, 65.617, 65.599, 65.614, 65.598, 65.616, 65.600, 65.613,
	65.597, 65.615, 65.599, 65.612, 65.598, 65.610, 65.603,
	65.604, 65.618, 65.599, 65.620, 65.601, 65.617, 65.598, 65.621, 65.600, 65.616,
	65.602, 65.619, 65.597, 65.615, 65.600, 65.618, 65.598, 65.620, 65.601, 65.616,
	65.599, 65.617, 65.597, 65.614, 65.600, 65.618, 65.596, 65.615, 65.598, 65.612,
	65.599, 65.630, 65.598, 65.614, 65.640, 65.596, 65.612, 65.595, 65.611, 65.597,
	65.613, 65.594, 65.610, 65.596, 65.612, 65.595, 65.609, 65.594, 65.611, 65.596,
	65.612, 65.595, 65.610, 65.594, 65.613, 65.596, 65.609, 65.595, 65.611, 65.594,
	65.610, 65.596, 65.612, 65.595, 65.609, 65.594, 65.611, 65.596, 65.608, 65.595,
	65.601,
]

const TRANS_LEFT_TICKS = [-9.45, -9.44, -9.43, -9.42, -9.41, -9.4, -9.39]
const TRANS_RIGHT_TICKS = [9.24, 9.25, 9.26, 9.27, 9.28, 9.29, 9.3]
const LONG_LEFT_TICKS = [-811.65, -811.6, -811.55, -811.5]
const LONG_RIGHT_TICKS = [-811.88, -811.86, -811.84, -811.82, -811.8, -811.78]
const VERT_LEFT_TICKS = [65.52, 65.54, 65.56, 65.58, 65.6, 65.62]
const VERT_RIGHT_TICKS = [65.56, 65.58, 65.6, 65.62, 65.64, 65.66]

const DAYS = [...DAYS_A, ...DAYS_B, ...DAYS_C]

const PANELS = [
	{
		title: "Composante Transversale",
		left: TRANS_81,
		right: TRANS_85,
		leftDomain: [-9.45, -9.38],
		rightDomain: [9.24, 9.31],
		leftTicks: TRANS_LEFT_TICKS,
		rightTicks: TRANS_RIGHT_TICKS,
		plotTop: 31,
		plotBottom: 305,
		titleY: 18,
		leftLabelX: 45,
		rightLabelX: 1110,
	},
	{
		title: "Composante Longitudinale",
		left: LONG_81,
		right: LONG_85,
		leftDomain: [-811.65, -811.5],
		rightDomain: [-811.88, -811.78],
		leftTicks: LONG_LEFT_TICKS,
		rightTicks: LONG_RIGHT_TICKS,
		plotTop: 413,
		plotBottom: 692,
		titleY: 403,
		leftLabelX: 20,
		rightLabelX: 1141,
	},
	{
		title: "Composante Verticale",
		left: VERT_81,
		right: VERT_85,
		leftDomain: [65.52, 65.62],
		rightDomain: [65.56, 65.66],
		leftTicks: VERT_LEFT_TICKS,
		rightTicks: VERT_RIGHT_TICKS,
		plotTop: 799,
		plotBottom: 1075,
		titleY: 787,
		leftLabelX: 38,
		rightLabelX: 1120,
	},
]

const WIDTH = 1154
const HEIGHT = 1102
const LEFT_W = 111 // plot starts at x 111
const RIGHT_W = 107 // plot ends at x 1047
const MARGIN_TOP = 10
const XAXIS_H = 34

const formatDay = (v: number) => {
	const i = X_TICKS.indexOf(v)
	return i >= 0 ? X_LABELS[i] : ""
}

function VLabel({ x, y, color, text }: { x: number; y: number; color: string; text: string }) {
	return (
		<div
			style={{
				position: "absolute",
				left: x,
				top: y,
				transform: "translate(-50%, -50%) rotate(-90deg)",
				whiteSpace: "nowrap",
				color,
				fontSize: 18.5,
				lineHeight: "22px",
			}}
		>
			{text}
		</div>
	)
}

function Panel({ p }: { p: (typeof PANELS)[number] }) {
	const rows = DAYS.map((d, i) => ({ d, a: p.left[i], b: p.right[i] }))
	const plotH = p.plotBottom - p.plotTop
	const mid = (p.plotTop + p.plotBottom) / 2

	return (
		<>
			<div
				style={{
					position: "absolute",
					left: LEFT_W,
					width: WIDTH - LEFT_W - RIGHT_W,
					top: p.titleY - 11,
					lineHeight: "22px",
					textAlign: "center",
					fontWeight: "bold",
					fontSize: 18.5,
					color: "#1a1a1a",
				}}
			>
				{p.title}
			</div>
			<div style={{ position: "absolute", left: 0, top: p.plotTop - MARGIN_TOP }}>
				<LineChart
					width={WIDTH}
					height={MARGIN_TOP + plotH + XAXIS_H}
					data={rows}
					margin={{ top: MARGIN_TOP, right: 0, bottom: 0, left: 0 }}
				>
					<CartesianGrid stroke="#e3e3e3" yAxisId="l" />
					<XAxis
						dataKey="d"
						type="number"
						domain={[-31, 457]}
						ticks={X_TICKS}
						interval={0}
						allowDataOverflow
						tickFormatter={formatDay}
						height={XAXIS_H}
						tickLine={false}
						tickSize={6}
						tickMargin={2}
						stroke="#262626"
						tick={{ fill: "#262626", fontSize: 18, fontFamily: FONT }}
					/>
					<XAxis
						xAxisId="top"
						orientation="top"
						dataKey="d"
						type="number"
						domain={[-31, 457]}
						ticks={X_TICKS}
						height={0}
						tick={false}
						tickLine={false}
						stroke="#7a7a7a"
						strokeWidth={1.5}
					/>
					<YAxis
						yAxisId="l"
						domain={p.leftDomain}
						ticks={p.leftTicks}
						interval={0}
						allowDataOverflow
						width={LEFT_W}
						tickLine={false}
						tickSize={4}
						tickMargin={2}
						stroke={BLUE}
						tickFormatter={(v: number) => String(v)}
						tick={{ fill: BLUE, fontSize: 17.5, fontFamily: FONT }}
					/>
					<YAxis
						yAxisId="r"
						orientation="right"
						domain={p.rightDomain}
						ticks={p.rightTicks}
						interval={0}
						allowDataOverflow
						width={RIGHT_W}
						tickLine={false}
						tickSize={4}
						tickMargin={2}
						stroke={ORANGE}
						tickFormatter={(v: number) => String(v)}
						tick={{ fill: ORANGE, fontSize: 17.5, fontFamily: FONT }}
					/>
					<Line
						yAxisId="l"
						dataKey="a"
						stroke={BLUE}
						strokeWidth={1.3}
						dot={false}
						isAnimationActive={false}
					/>
					<Line
						yAxisId="r"
						dataKey="b"
						stroke={ORANGE}
						strokeWidth={1.3}
						dot={false}
						isAnimationActive={false}
					/>
				</LineChart>
			</div>
			<VLabel x={p.leftLabelX} y={mid} color={BLUE} text="Position GNSS 81 (m)" />
			<VLabel x={p.rightLabelX} y={mid} color={ORANGE} text="Position GNSS 85 (m)" />
		</>
	)
}

export default function App() {
	return (
		<div
			style={{
				position: "absolute",
				left: 0,
				top: 0,
				width: WIDTH,
				height: HEIGHT,
				overflow: "hidden",
				fontFamily: FONT,
				background: "#fff",
			}}
		>
			{PANELS.map((p) => (
				<Panel key={p.title} p={p} />
			))}
		</div>
	)
}
